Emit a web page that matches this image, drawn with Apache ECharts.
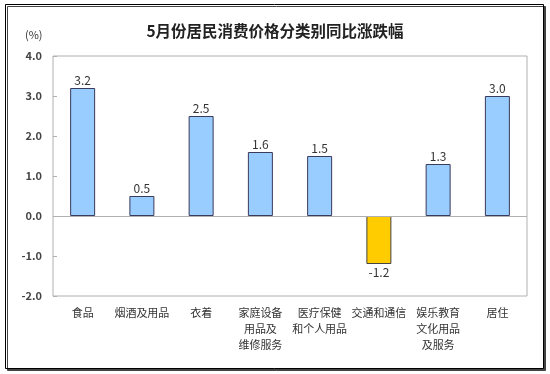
<!DOCTYPE html>
<html>
<head>
<meta charset="utf-8">
<script src="https://cdn.jsdelivr.net/npm/echarts@6/dist/echarts.min.js"></script>
<style>
html,body{margin:0;padding:0;background:#fff;}
#main{width:550px;height:374px;}
</style>
</head>
<body>
<div id="main"></div>
<script>
var categories = ['食品', '烟酒及用品', '衣着', '家庭设备\n用品及\n维修服务', '医疗保健\n和个人用品', '交通和通信', '娱乐教育\n文化用品\n及服务', '居住'];
var values = [3.2, 0.5, 2.5, 1.6, 1.5, -1.2, 1.3, 3.0];
var yTicks = [-2, -1, 0, 1, 2, 3, 4];
var titleText = '5月份居民消费价格分类别同比涨跌幅';
var unitText = '(%)';

var FONT = '"Noto Sans CJK SC", "Noto Sans", sans-serif';
var chart = echarts.init(document.getElementById('main'), null, {renderer: 'canvas'});

var data = values.map(function (v) {
  return {
    value: v,
    itemStyle: v < 0 ? {color: '#FFCC00', borderColor: '#444'} : {color: '#99CCFF', borderColor: '#3a3a5a'},
    label: {position: v < 0 ? 'bottom' : 'top'}
  };
});

chart.setOption({
  animation: false,
  backgroundColor: '#fff',
  graphic: [
    {type: 'rect', shape: {x: 5.5, y: 4.5, width: 538, height: 364}, z: -10,
     style: {fill: '#fff', stroke: '#000', lineWidth: 1, shadowColor: '#444', shadowOffsetX: 2, shadowOffsetY: 2, shadowBlur: 0}},
    {type: 'text', left: 25, top: 29, z: 10,
     style: {text: unitText, font: '11px ' + FONT, fill: '#333'}}
  ],
  title: {
    text: titleText,
    left: 'center',
    top: 18,
    textStyle: {fontFamily: FONT, fontSize: 15.5, fontWeight: 'bold', color: '#222'}
  },
  grid: {left: 53, right: 23, top: 56, bottom: 78, show: true, borderColor: '#b0b0b0', borderWidth: 1, containLabel: false},
  xAxis: {
    type: 'category',
    data: categories,
    axisLine: {show: false, onZero: false},
    axisTick: {show: false},
    axisLabel: {interval: 0, margin: 9, fontFamily: FONT, fontSize: 11, lineHeight: 16, color: '#333', verticalAlign: 'top'},
    splitLine: {show: false}
  },
  yAxis: {
    type: 'value',
    min: yTicks[0],
    max: yTicks[yTicks.length - 1],
    interval: 1,
    axisLine: {show: false},
    axisTick: {show: true, inside: true, length: 4, lineStyle: {color: '#b0b0b0'}},
    splitLine: {show: false},
    axisLabel: {margin: 11, fontFamily: FONT, fontSize: 11, fontWeight: 'bold', color: '#444',
      formatter: function (v) { return v.toFixed(1); }}
  },
  series: [{
    type: 'bar',
    data: data,
    barWidth: 25,
    itemStyle: {borderWidth: 1},
    label: {show: true, distance: 2, fontFamily: FONT, fontSize: 12, color: '#333',
      formatter: function (p) { return p.value.toFixed(1); }},
    markLine: {
      silent: true,
      symbol: 'none',
      label: {show: false},
      lineStyle: {color: '#b0b0b0', type: 'solid', width: 1},
      data: [{yAxis: 0}]
    }
  }]
});
</script>
</body>
</html>
